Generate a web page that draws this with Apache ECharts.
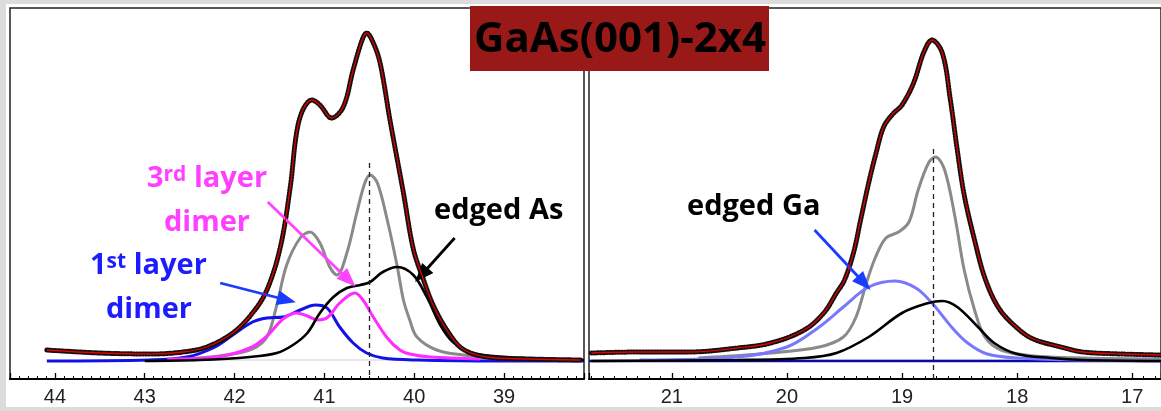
<!DOCTYPE html>
<html>
<head>
<meta charset="utf-8">
<script src="https://cdn.jsdelivr.net/npm/echarts@6/dist/echarts.min.js"></script>
<style>
html, body { margin: 0; background: #fff; }
#chart { width: 1161px; height: 411px; }
</style>
</head>
<body>
<div id="chart"></div>
<script>
// As 3d panel (left), binding energy in eV vs intensity (arb. units)
const asEnvelope = [[44.09,29],[43.50,26],[42.94,25],[42.57,27],[42.31,32],[42.02,46],[41.80,66],[41.64,89],
  [41.49,132],[41.38,192],[41.31,246],[41.24,269],[41.14,279],[41.05,274],[40.92,261],[40.79,272],[40.68,309],
  [40.58,339],[40.53,346],[40.46,337],[40.38,316],[40.27,259],[40.12,186],[40.01,130],[39.90,100],[39.79,74],
  [39.63,48],[39.46,30],[39.19,22],[38.71,20],[38.15,19]];
const asBulk = [[42.94,19],[42.39,21],[42.02,25],[41.80,30],[41.64,42],[41.53,74],[41.42,114],[41.27,141],
  [41.16,147],[41.05,136],[40.94,112],[40.86,104],[40.75,126],[40.64,166],[40.55,196],[40.49,204],[40.41,196],
  [40.30,159],[40.19,113],[40.12,79],[40.05,59],[39.97,42],[39.75,29],[39.46,24],[39.08,21],[38.49,20],[38.11,19]];
const asDimer1 = [[44.09,18],[42.94,19],[42.53,22],[42.24,31],[42.02,44],[41.80,57],[41.64,61],[41.46,62],
  [41.27,69],[41.10,74],[40.97,71],[40.83,52],[40.68,36],[40.53,26],[40.35,21],[39.97,19],[39.04,18],[38.11,18]];
const asDimer3 = [[42.75,20],[42.20,22],[41.83,31],[41.64,43],[41.46,60],[41.31,66],[41.19,63],[41.07,59],
  [40.96,62],[40.83,76],[40.66,86],[40.57,79],[40.47,64],[40.30,41],[40.16,29],[40.05,25],[39.82,22],[39.27,20]];
const asEdge = [[43.00,18],[42.39,19],[41.83,22],[41.53,26],[41.35,34],[41.19,46],[41.05,66],[40.90,82],
  [40.75,91],[40.60,94],[40.49,97],[40.35,107],[40.19,112],[40.01,104],[39.86,82],[39.71,54],[39.57,37],
  [39.35,26],[38.97,22],[38.52,20],[38.11,19]];
const asBackground = [[42.6,19],[38.11,19]];
const asMarker = [40.5, 216];

// Ga 3d panel (right)
const gaEnvelope = [[21.70,26],[21.28,27],[20.85,27],[20.43,31],[20.14,36],[19.85,49],[19.68,66],[19.57,86],
  [19.50,99],[19.42,127],[19.36,159],[19.29,196],[19.23,224],[19.16,252],[19.08,265],[19.00,274],[18.90,296],
  [18.81,327],[18.74,339],[18.65,326],[18.58,279],[18.52,229],[18.46,184],[18.37,139],[18.28,101],[18.16,71],
  [18.00,51],[17.86,40],[17.62,32],[17.43,27],[17.09,25],[16.75,24]];
const gaBulk = [[20.77,21],[20.14,26],[19.72,32],[19.51,42],[19.40,62],[19.31,96],[19.23,122],[19.14,141],
  [19.03,147],[18.94,157],[18.86,189],[18.77,216],[18.71,222],[18.63,209],[18.54,162],[18.46,109],[18.37,69],
  [18.28,42],[18.14,29],[17.86,23],[17.43,21],[16.75,20]];
const gaEdge = [[21.28,19],[20.43,22],[20.00,32],[19.72,52],[19.51,72],[19.29,92],[19.06,98],[18.88,91],
  [18.74,76],[18.57,52],[18.43,36],[18.26,25],[18.00,21],[17.43,19],[16.75,18]];
const gaSub = [[21.70,18],[20.43,19],[19.85,21],[19.57,26],[19.29,42],[19.00,66],[18.77,76],[18.65,78],
  [18.52,72],[18.34,52],[18.20,36],[18.00,25],[17.71,21],[17.43,19],[16.75,18]];
const gaBase = [[21.72,18],[16.75,18]];
const gaBackground = [[20.9,19],[16.75,19]];
const gaMarker = [18.73, 230];

// annotation arrows [from, to]
const arrowDimer3 = [[41.63,177],[40.73,99]];
const arrowDimer1 = [[42.16,96],[41.42,79]];
const arrowEdgeAs = [[39.55,141],[39.92,104]];
const arrowEdgeGa = [[19.76,149],[19.33,96]];

const chart = echarts.init(document.getElementById('chart'));

const labelFont = { fontSize: 20, color: '#222', fontFamily: 'Liberation Sans', margin: 8 };

function xAxisFor(gi, min, max) {
  return {
    type: 'value', gridIndex: gi, inverse: true, min: min, max: max,
    axisLine: { show: true, lineStyle: { color: '#000', width: 2 } },
    axisTick: { show: true, inside: true, length: 6, lineStyle: { color: '#000', width: 1.3 } },
    minorTick: { show: true, splitNumber: 10, length: 3, lineStyle: { color: '#000', width: 1 } },
    axisLabel: Object.assign({ showMinLabel: false, showMaxLabel: false }, labelFont),
    splitLine: { show: false }
  };
}

function curve(data, gi, color, width, z) {
  return {
    type: 'line', data: data, xAxisIndex: gi, yAxisIndex: gi,
    symbol: 'none', smooth: 0.35, z: z || 2,
    lineStyle: { color: color, width: width }
  };
}

function dotted(data, gi) {
  const s = curve(data, gi, '#111', 5, 4);
  s.lineStyle = { color: '#111', width: 5, type: [1, 2], cap: 'round' };
  return s;
}

function arrow(pts, color) {
  return [{ coord: pts[0], symbol: 'none', lineStyle: { color: color } },
          { coord: pts[1], symbol: 'triangle' }];
}

function marks(gi, marker, arrows) {
  return {
    type: 'line', data: [], xAxisIndex: gi, yAxisIndex: gi, z: 10,
    markLine: {
      silent: true, animation: false, symbolSize: [15, 19],
      label: { show: false },
      lineStyle: { width: 2.8, type: 'solid' },
      data: [[{ coord: marker, symbol: 'none', lineStyle: { color: '#222', width: 1.3, type: [5, 4] } },
              { coord: [marker[0], 0], symbol: 'none' }]].concat(arrows)
    }
  };
}

const series = [
  curve(asBackground, 0, '#cfcfcf', 1.2, 1),
  curve(asBulk, 0, '#8a8a8a', 3),
  curve(asDimer1, 0, '#1212e8', 3),
  curve(asDimer3, 0, '#ff2bff', 3),
  curve(asEdge, 0, '#000', 2.6),
  dotted(asEnvelope, 0),
  curve(asEnvelope, 0, '#e00000', 1.3, 5),
  marks(0, asMarker, [arrow(arrowDimer3, '#ff44ff'), arrow(arrowDimer1, '#1a3cff'), arrow(arrowEdgeAs, '#000')]),

  curve(gaBackground, 1, '#cfcfcf', 1.2, 1),
  curve(gaBase, 1, '#0a0aa8', 2.6),
  curve(gaBulk, 1, '#8a8a8a', 3),
  curve(gaEdge, 1, '#7878ff', 3),
  curve(gaSub, 1, '#000', 2.6),
  dotted(gaEnvelope, 1),
  curve(gaEnvelope, 1, '#e00000', 1.3, 5),
  marks(1, gaMarker, [arrow(arrowEdgeGa, '#1a3cff')])
];

function note(x, y, text, color, rich) {
  return {
    type: 'text', x: x, y: y, z: 50,
    style: {
      text: text, fill: color, font: 'bold 29px "Open Sans"',
      verticalAlign: 'middle', textVerticalAlign: 'middle',
      rich: rich
    }
  };
}
const supRich = (color) => ({ s: { fill: color, fontSize: 21, fontWeight: 'bold', fontFamily: 'Open Sans', verticalAlign: 'top' } });

chart.setOption({
  animation: false,
  backgroundColor: '#fff',
  grid: [
    { left: 10, top: 8, width: 574, height: 371, show: true, borderColor: '#222', borderWidth: 1.5, backgroundColor: '#fff' },
    { left: 589, top: 8, width: 580, height: 371, show: true, borderColor: '#222', borderWidth: 1.5, backgroundColor: '#fff' }
  ],
  xAxis: [xAxisFor(0, 38.11, 44.5), xAxisFor(1, 16.75, 21.72)],
  yAxis: [
    { type: 'value', gridIndex: 0, min: 0, max: 371, show: false },
    { type: 'value', gridIndex: 1, min: 0, max: 371, show: false }
  ],
  series: series,
  graphic: [
    { type: 'rect', shape: { x: 0, y: 0, width: 6, height: 411 }, style: { fill: '#dcdcdc' }, z: 60 },
    { type: 'rect', shape: { x: 0, y: 0, width: 1161, height: 4 }, style: { fill: '#dcdcdc' }, z: 60 },
    { type: 'rect', shape: { x: 0, y: 407, width: 1161, height: 4 }, style: { fill: '#dcdcdc' }, z: 60 },
    { type: 'rect', shape: { x: 470, y: 6, width: 299, height: 65 }, style: { fill: '#991919' }, z: 70 },
    { type: 'text', x: 620, y: 40, z: 71,
      style: { text: 'GaAs(001)-2x4', fill: '#000', font: 'bold 42px "Open Sans"',
               align: 'center', textAlign: 'center', verticalAlign: 'middle', textVerticalAlign: 'middle' } },
    note(147, 179, '3{s|rd} layer', '#ff40ff', supRich('#ff40ff')),
    note(164, 223, 'dimer', '#ff40ff'),
    note(90, 266, '1{s|st} layer', '#1c1cff', supRich('#1c1cff')),
    note(106, 310, 'dimer', '#1c1cff'),
    note(434, 211, 'edged As', '#000'),
    note(687, 207, 'edged Ga', '#000')
  ]
});
</script>
</body>
</html>
